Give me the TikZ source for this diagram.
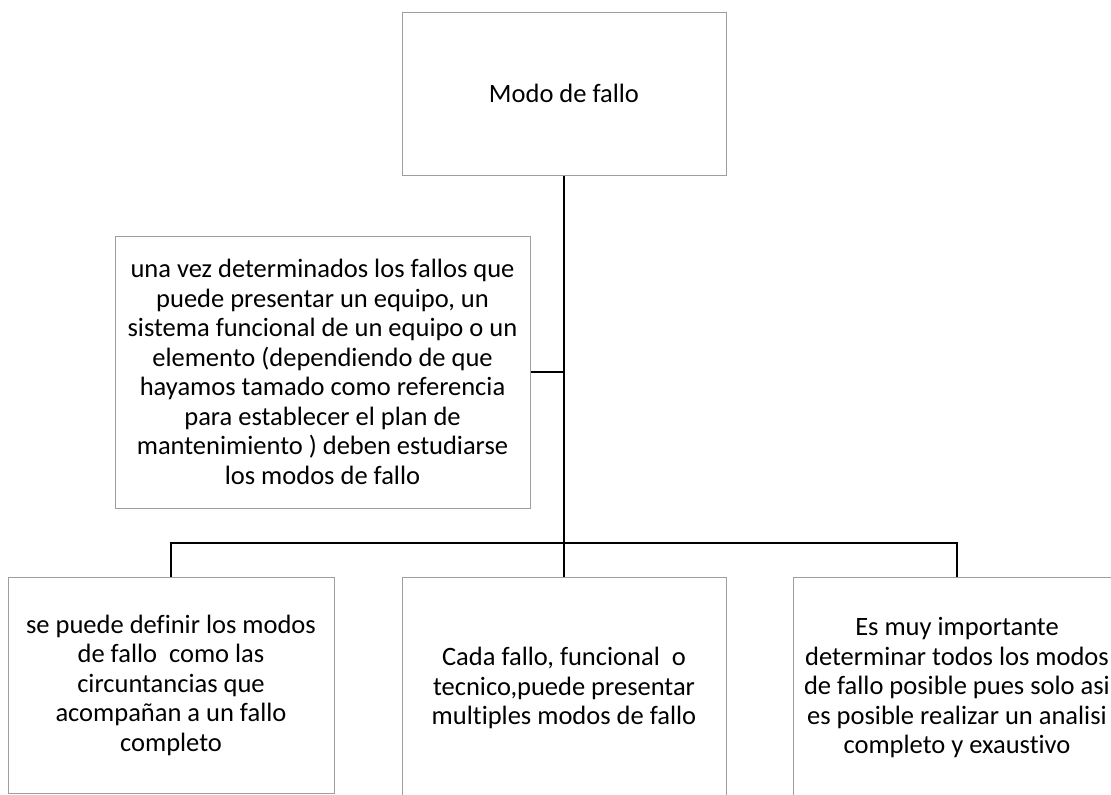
\documentclass[tikz,border=0pt]{standalone}
\usepackage{fontspec}
\setmainfont{Carlito}[Ligatures=NoCommon]
\begin{document}
\begin{tikzpicture}[x=1pt,y=-1pt,
  box/.style={draw=black!38, line width=1pt, fill=white, align=center, inner sep=0pt,
    font=\fontsize{26.5}{29.5}\selectfont, text=black},
  conn/.style={draw=black, line width=2.2pt}]
\useasboundingbox (0,0) rectangle (1111,795);
\node[box, minimum width=324pt, minimum height=163pt] (top) at (564,93.5) {Modo de fallo};
\node[box, minimum width=415pt, minimum height=272pt] (expl) at (322.5,372) {una vez determinados los fallos que\\puede presentar un equipo, un\\sistema funcional de un equipo o un\\elemento (dependiendo de que\\hayamos tamado como referencia\\para establecer el plan de\\mantenimiento ) deben estudiarse\\los modos de fallo};
\node[box, minimum width=326pt, minimum height=216pt] (b1) at (171,685) {se puede definir los modos\\de fallo \ como las\\circuntancias que\\acompañan a un fallo\\completo};
\node[box, minimum width=324pt, minimum height=222pt] (b2) at (564,688) {Cada fallo, funcional \ o\\tecnico,puede presentar\\multiples modos de fallo};
\node[box, minimum width=328pt, minimum height=222pt] (b3) at (957,688) {Es muy importante\\determinar todos los modos\\de fallo posible pues solo asi\\es posible realizar un analisi\\completo y exaustivo};
\coordinate (j) at (564,543);
\draw[conn] (top.south) -- (j);
\draw[conn] (expl.east) -- (expl.east -| top.south);
\draw[conn] (b1.north) |- (j) -| (b3.north);
\draw[conn] (j) -- (b2.north);
\end{tikzpicture}
\end{document}
